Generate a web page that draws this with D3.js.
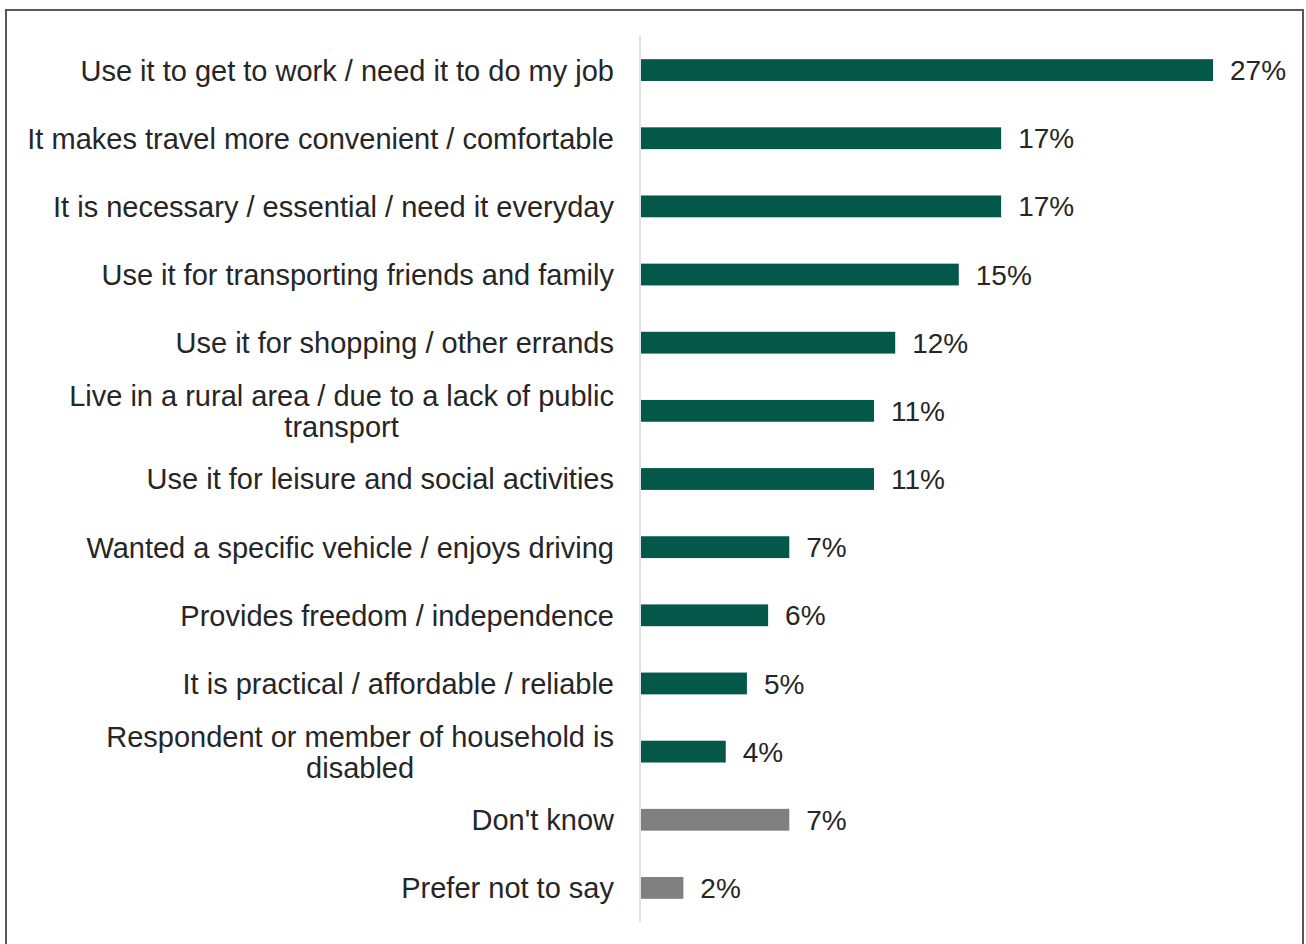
<!DOCTYPE html>
<html>
<head>
<meta charset="utf-8">
<script src="https://cdn.jsdelivr.net/npm/d3@7"></script>
<style>
  html, body { margin: 0; padding: 0; background: #ffffff; }
  svg { display: block; }
  text { font-family: "Liberation Sans", Arial, sans-serif; }
</style>
</head>
<body>
<svg id="chart" width="1306" height="944"></svg>
<script>
// Reasons for owning / using a vehicle (% of respondents)
const categories = [
  ["Use it to get to work / need it to do my job"],
  ["It makes travel more convenient / comfortable"],
  ["It is necessary / essential / need it everyday"],
  ["Use it for transporting friends and family"],
  ["Use it for shopping / other errands"],
  ["Live in a rural area / due to a lack of public", "transport"],
  ["Use it for leisure and social activities"],
  ["Wanted a specific vehicle / enjoys driving"],
  ["Provides freedom / independence"],
  ["It is practical / affordable / reliable"],
  ["Respondent or member of household is", "disabled"],
  ["Don't know"],
  ["Prefer not to say"]
];
const values = [27, 17, 17, 15, 12, 11, 11, 7, 6, 5, 4, 7, 2];
const isNonAnswer = [false, false, false, false, false, false, false, false, false, false, false, true, true];

const svg = d3.select("#chart");
const labelSize = 29;
const valueSize = 28;

// frame
svg.append("rect")
  .attr("x", 6).attr("y", 10)
  .attr("width", 1297).attr("height", 950)
  .attr("fill", "none")
  .attr("stroke", "#595959")
  .attr("stroke-width", 2);

const x0 = 641;
const x = d3.scaleLinear().domain([0, 27]).range([x0, 1213]);
const idx = d3.range(categories.length);
const y = d3.scaleBand().domain(idx).range([36, 922]).paddingInner(0.68).paddingOuter(0.34);

// category axis line
svg.append("line")
  .attr("x1", x0 - 1).attr("x2", x0 - 1)
  .attr("y1", 36).attr("y2", 922)
  .attr("stroke", "#d9d9d9").attr("stroke-width", 1.5);

// bars
svg.selectAll("rect.bar")
  .data(idx)
  .join("rect")
  .attr("class", "bar")
  .attr("x", x(0))
  .attr("y", i => y(i))
  .attr("width", i => x(values[i]) - x(0))
  .attr("height", y.bandwidth())
  .attr("fill", i => isNonAnswer[i] ? "#808080" : "#04584a");

// value labels
svg.selectAll("text.val")
  .data(idx)
  .join("text")
  .attr("class", "val")
  .attr("x", i => x(values[i]) + 17)
  .attr("y", i => y(i) + y.bandwidth() / 2)
  .attr("dy", "0.36em")
  .attr("font-size", valueSize)
  .attr("fill", "#262626")
  .text(i => values[i] + "%");

// category labels: block right-aligned to the axis, lines centred within the block
const labelRight = 614;
const lineH = 31;
idx.forEach(i => {
  const lines = categories[i];
  const g = svg.append("g");
  const cy = y(i) + y.bandwidth() / 2;
  const texts = lines.map((ln, k) => g.append("text")
    .attr("font-size", labelSize)
    .attr("fill", "#262626")
    .attr("text-anchor", "middle")
    .attr("y", cy + (k - (lines.length - 1) / 2) * lineH)
    .attr("dy", "0.36em")
    .text(ln));
  const maxW = d3.max(texts, t => t.node().getComputedTextLength());
  texts.forEach(t => t.attr("x", labelRight - maxW / 2));
});
</script>
</body>
</html>
